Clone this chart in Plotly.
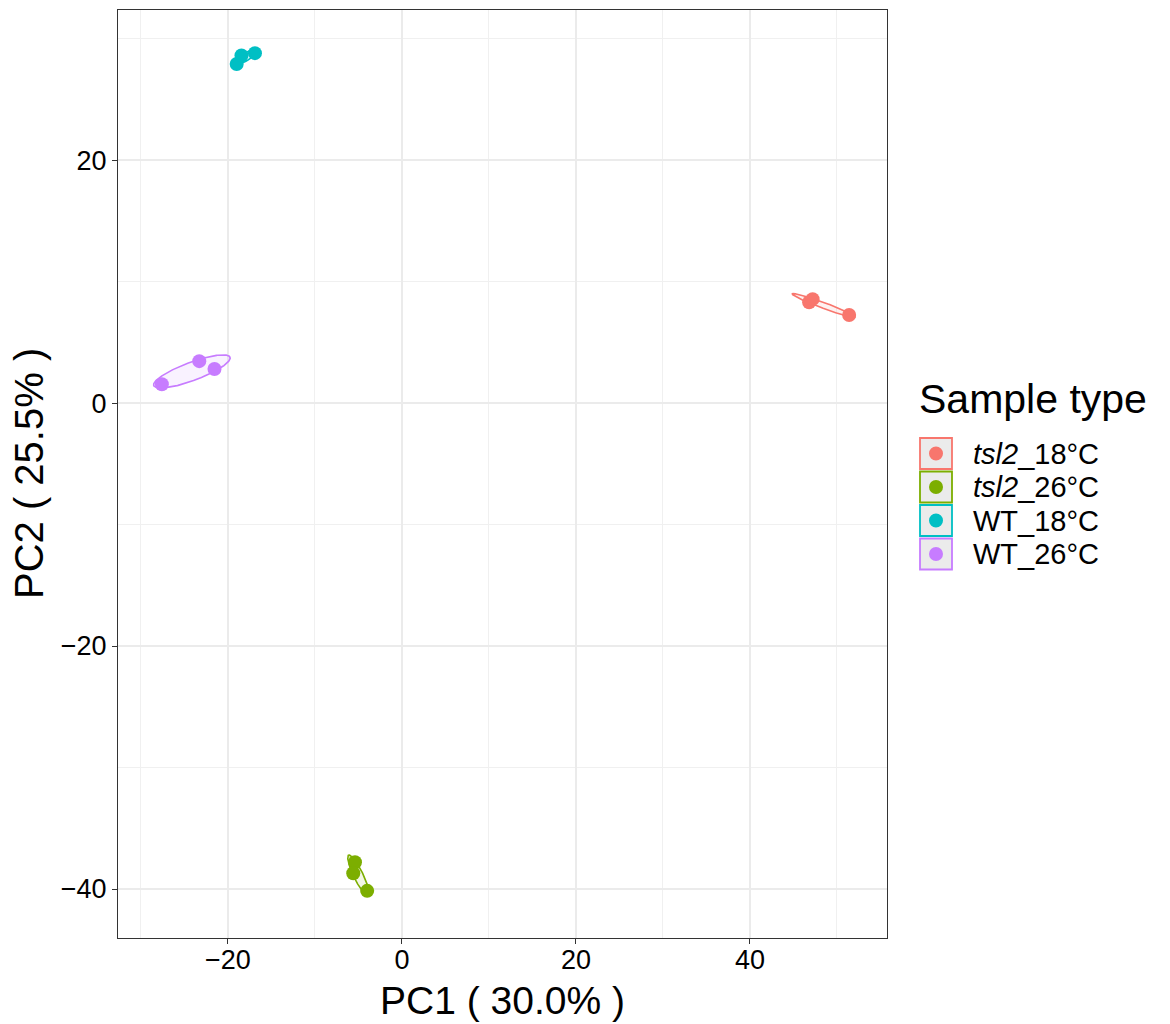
import numpy as np
import plotly.graph_objects as go

# PCA scores per sample group
groups = ["tsl2_18°C", "tsl2_26°C", "WT_18°C", "WT_26°C"]
group_labels = ["<i>tsl2</i>_18°C", "<i>tsl2</i>_26°C", "WT_18°C", "WT_26°C"]
colors = ["#F8766D", "#7CAE00", "#00BFC4", "#C77CFF"]

pc1_tsl2_18 = [46.8, 47.2, 51.4]
pc2_tsl2_18 = [8.3, 8.55, 7.25]
pc1_tsl2_26 = [-5.4, -5.6, -4.0]
pc2_tsl2_26 = [-37.8, -38.7, -40.15]
pc1_wt_18 = [-19.0, -18.45, -16.9]
pc2_wt_18 = [27.9, 28.6, 28.8]
pc1_wt_26 = [-27.6, -23.3, -21.55]
pc2_wt_26 = [1.55, 3.45, 2.8]

pc1 = [pc1_tsl2_18, pc1_tsl2_26, pc1_wt_18, pc1_wt_26]
pc2 = [pc2_tsl2_18, pc2_tsl2_26, pc2_wt_18, pc2_wt_26]

x_ticks = [-20, 0, 20, 40]
y_ticks = [-40, -20, 0, 20]
x_title = "PC1 ( 30.0% )"
y_title = "PC2 ( 25.5% )"
legend_title = "Sample type"

W, H = 1170, 1024
L, R, T, B = 118, 887, 10, 938
FONT = "Liberation Sans, Arial, Helvetica, sans-serif"


def ellipse(x, y, scale=np.sqrt(2), n=200):
    """Normal-theory data ellipse around a group's scores."""
    pts = np.column_stack([x, y])
    mu = pts.mean(axis=0)
    cov = np.cov(pts, rowvar=False)
    vals, vecs = np.linalg.eigh(cov)
    vals = np.clip(vals, 0, None)
    t = np.linspace(0, 2 * np.pi, n)
    circ = np.vstack([np.cos(t), np.sin(t)])
    e = vecs @ (np.sqrt(vals)[:, None] * circ) * scale
    return mu[0] + e[0], mu[1] + e[1]


def rgba(hex_color, a):
    h = hex_color.lstrip("#")
    r, g, b = int(h[0:2], 16), int(h[2:4], 16), int(h[4:6], 16)
    return f"rgba({r},{g},{b},{a})"


fig = go.Figure()

for name, xs, ys, c in zip(groups, pc1, pc2, colors):
    ex, ey = ellipse(xs, ys)
    fig.add_trace(go.Scatter(
        x=ex, y=ey, mode="lines", fill="toself",
        fillcolor=rgba(c, 0.1), line=dict(color=c, width=1.6),
        showlegend=False, hoverinfo="skip"))

for name, xs, ys, c in zip(groups, pc1, pc2, colors):
    fig.add_trace(go.Scatter(
        x=xs, y=ys, mode="markers", name=name,
        marker=dict(color=c, size=14, line=dict(width=0)),
        showlegend=False))

# Pixel -> paper coordinate helpers for the legend and axis titles
pw, ph = R - L, B - T


def px(xp):
    return (xp - L) / pw


def py(yp):
    return (B - yp) / ph


shapes = []
annotations = []
key_x0, key_x1 = 920, 952
key_tops = [438, 471.5, 505, 538.5]
for top, c, lab in zip(key_tops, colors, group_labels):
    shapes.append(dict(type="rect", xref="paper", yref="paper",
                       x0=px(key_x0), x1=px(key_x1), y0=py(top + 31), y1=py(top),
                       fillcolor="#EBEBEB", line=dict(color=c, width=1.8), layer="above"))
    cx, cy = (key_x0 + key_x1) / 2, top + 15.5
    r = 7
    shapes.append(dict(type="circle", xref="paper", yref="paper",
                       x0=px(cx - r), x1=px(cx + r), y0=py(cy + r), y1=py(cy - r),
                       fillcolor=c, line=dict(width=0), layer="above"))
    annotations.append(dict(text=lab, xref="paper", yref="paper",
                            x=px(971), y=py(cy), xanchor="left", yanchor="middle",
                            showarrow=False, font=dict(size=29, color="#000000", family=FONT)))

annotations.append(dict(text=legend_title, xref="paper", yref="paper",
                        x=px(917), y=py(399), xanchor="left", yanchor="middle",
                        showarrow=False, font=dict(size=41, color="#000000", family=FONT)))

# Axis titles
annotations.append(dict(text=x_title, xref="paper", yref="paper",
                        x=0.5, y=py(1000), xanchor="center", yanchor="middle",
                        showarrow=False, font=dict(size=39, color="#000000", family=FONT)))
annotations.append(dict(text=y_title, xref="paper", yref="paper", textangle=-90,
                        x=px(29), y=0.5, xanchor="center", yanchor="middle",
                        showarrow=False, font=dict(size=40, color="#000000", family=FONT)))

fig.update_layout(
    width=W, height=H,
    margin=dict(l=L, r=W - R, t=T, b=H - B, autoexpand=False),
    paper_bgcolor="white", plot_bgcolor="white",
    font=dict(family=FONT, color="#000000"),
    shapes=shapes, annotations=annotations,
    showlegend=False,
)

axis_common = dict(
    automargin=False,
    showgrid=True, gridcolor="#EBEBEB", gridwidth=1.5,
    zeroline=False, showline=True, linecolor="#333333", linewidth=1.2, mirror=True,
    ticks="outside", ticklen=5, tickcolor="#333333", tickwidth=1.2,
    tickfont=dict(size=27, color="#000000", family=FONT),
    minor=dict(dtick=10, tick0=0, showgrid=True, gridcolor="#F0F0F0", gridwidth=1, ticks=""),
)

fig.update_xaxes(range=[-32.64, 55.75], tickmode="array", tickvals=x_ticks,
                 ticktext=["\u221220", "0", "20", "40"], ticklabelstandoff=-8,
                 **axis_common)
fig.update_yaxes(range=[-44.03, 32.35], tickmode="array", tickvals=y_ticks,
                 ticktext=["\u221240", "\u221220", "0", "20"], **axis_common)

fig.write_html("out.html")
